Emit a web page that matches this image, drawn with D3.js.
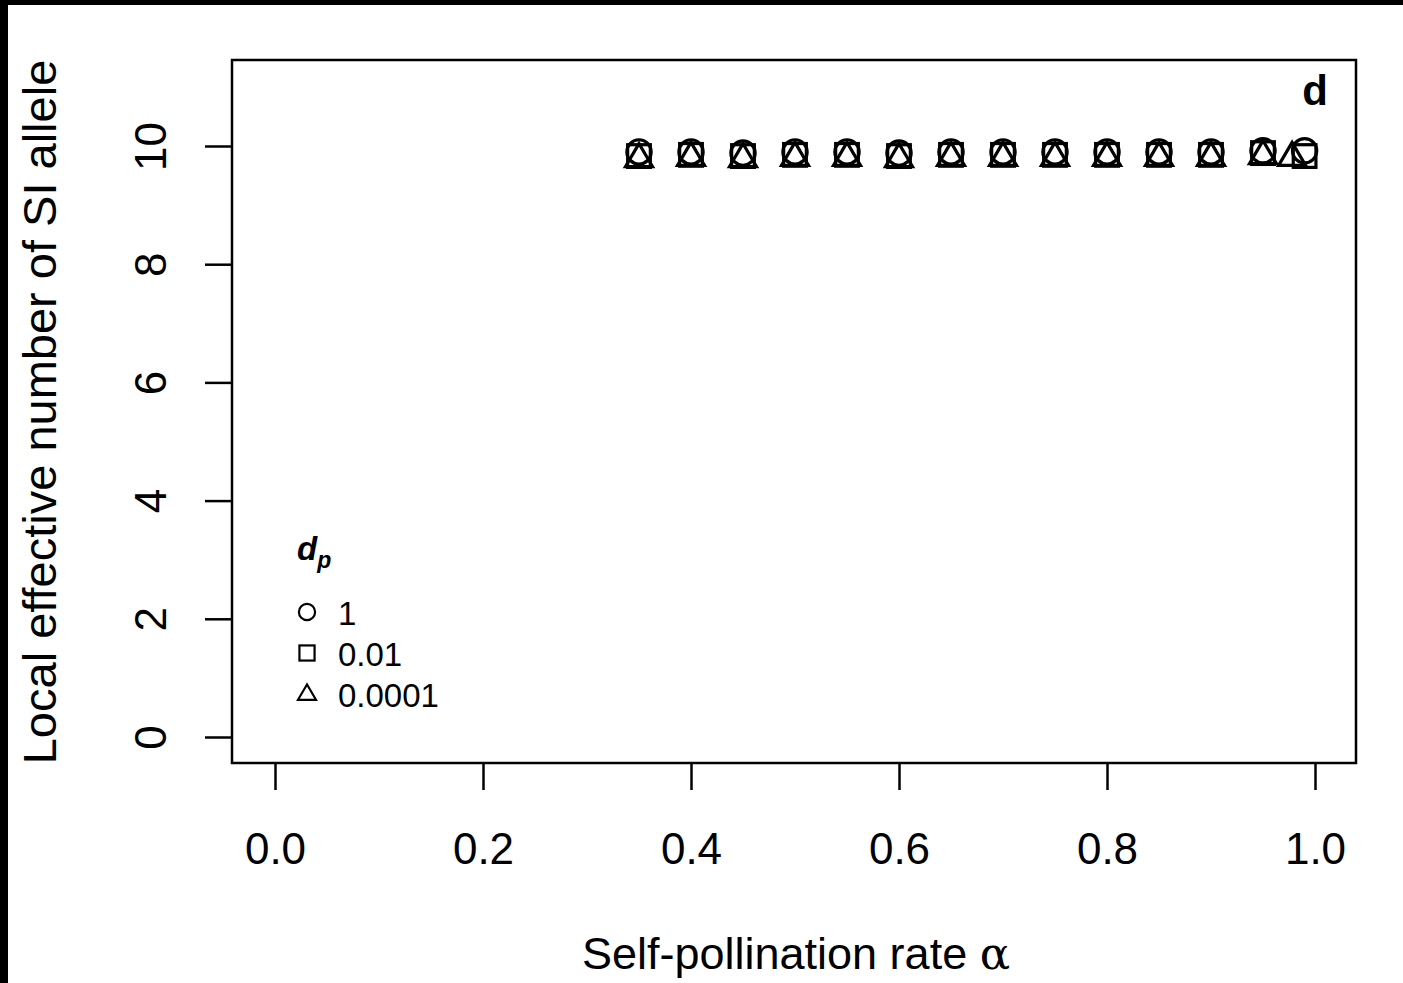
<!DOCTYPE html>
<html>
<head>
<meta charset="utf-8">
<script src="https://cdn.jsdelivr.net/npm/d3@7.9.0/dist/d3.min.js"></script>
<style>
  body { margin: 0; background: #000; }
  svg { display: block; font-family: Arial, "Liberation Sans", sans-serif; }
</style>
</head>
<body>
<svg id="chart" width="1403" height="983"></svg>
<script>
// data
const alphaMain = [0.35, 0.40, 0.45, 0.50, 0.55, 0.60, 0.65, 0.70, 0.75, 0.80, 0.85, 0.90, 0.95];
const circleY = [9.9, 9.9, 9.88, 9.9, 9.9, 9.88, 9.9, 9.9, 9.9, 9.9, 9.9, 9.9, 9.92];
const squareY = [9.83, 9.85, 9.83, 9.85, 9.85, 9.83, 9.85, 9.85, 9.85, 9.85, 9.85, 9.85, 9.88];
const triangleY = [9.8, 9.82, 9.8, 9.82, 9.82, 9.8, 9.82, 9.82, 9.82, 9.82, 9.82, 9.82, 9.85];
const lastAlpha = { circle: 0.99, square: 0.99, triangle: 0.978 };
const lastY = { circle: 9.92, square: 9.83, triangle: 9.82 };
const xTicks = [0.0, 0.2, 0.4, 0.6, 0.8, 1.0];
const yTicks = [0, 2, 4, 6, 8, 10];
const legendLabels = ['1', '0.01', '0.0001'];
const shapes = ['circle', 'square', 'triangle'];

const svg = d3.select('#chart');

// white page inside the black frame
svg.append('rect').attr('x', 8).attr('y', 5).attr('width', 1395).attr('height', 978).attr('fill', '#fff');

const box = { left: 232, right: 1356, top: 60, bottom: 763 };
const x = d3.scaleLinear().domain([0, 1]).range([275, 1315]);
const y = d3.scaleLinear().domain([0, 10]).range([737, 146]);

// axes
const xAxis = svg.append('g')
  .attr('transform', `translate(0,${box.bottom})`)
  .call(d3.axisBottom(x).tickValues(xTicks).tickFormat(d3.format('.1f')).tickSize(27).tickPadding(43));
xAxis.select('.domain').remove();
xAxis.selectAll('line').attr('stroke', '#000').attr('stroke-width', 2.5);
xAxis.selectAll('text').attr('font-size', 44).attr('fill', '#000').attr('font-family', 'Arial, "Liberation Sans", sans-serif');

const yAxis = svg.append('g')
  .attr('transform', `translate(${box.left},0)`)
  .call(d3.axisLeft(y).tickValues(yTicks).tickSize(27).tickPadding(0));
yAxis.select('.domain').remove();
yAxis.selectAll('line').attr('stroke', '#000').attr('stroke-width', 2.5);
yAxis.selectAll('text')
  .attr('font-size', 44).attr('fill', '#000')
  .attr('font-family', 'Arial, "Liberation Sans", sans-serif')
  .attr('x', null).attr('dy', null)
  .attr('text-anchor', 'middle')
  .attr('transform', 'translate(-66,0) rotate(-90)');

// plot frame
svg.append('rect')
  .attr('x', box.left).attr('y', box.top)
  .attr('width', box.right - box.left).attr('height', box.bottom - box.top)
  .attr('fill', 'none').attr('stroke', '#000').attr('stroke-width', 2.5);

// axis titles
svg.append('text')
  .attr('x', 796).attr('y', 969)
  .attr('text-anchor', 'middle').attr('font-size', 45)
  .text('Self-pollination rate ')
  .append('tspan').attr('font-family', '"DejaVu Serif", "Liberation Serif", serif').text('α');

svg.append('text')
  .attr('transform', 'translate(56,412) rotate(-90)')
  .attr('text-anchor', 'middle').attr('font-size', 47)
  .text('Local effective number of SI allele');

svg.append('text')
  .attr('x', 1315).attr('y', 105)
  .attr('text-anchor', 'middle').attr('font-size', 42).attr('font-weight', 'bold')
  .text('d');

// marker drawing
function drawMarker(g, shape, cx, cy, s, lw) {
  if (shape === 'circle') {
    g.append('circle').attr('cx', cx).attr('cy', cy).attr('r', s * 0.45)
      .attr('fill', 'none').attr('stroke', '#000').attr('stroke-width', lw);
  } else if (shape === 'square') {
    g.append('rect').attr('x', cx - s * 0.42).attr('y', cy - s * 0.42)
      .attr('width', s * 0.84).attr('height', s * 0.84)
      .attr('fill', 'none').attr('stroke', '#000').attr('stroke-width', lw);
  } else {
    const h = s * 0.85;
    const pts = [[cx, cy - h * 0.62], [cx - s * 0.5, cy + h * 0.38], [cx + s * 0.5, cy + h * 0.38]];
    g.append('polygon').attr('points', pts.map(p => p.join(',')).join(' '))
      .attr('fill', 'none').attr('stroke', '#000').attr('stroke-width', lw);
  }
}

const series = { circle: circleY, square: squareY, triangle: triangleY };
const pts = svg.append('g');
shapes.forEach(shape => {
  alphaMain.forEach((a, i) => drawMarker(pts, shape, x(a), y(series[shape][i]), 27, 3.2));
  drawMarker(pts, shape, x(lastAlpha[shape]), y(lastY[shape]), 27, 3.2);
});

// legend
const lg = svg.append('g');
const dp = lg.append('text').attr('x', 297).attr('y', 560).attr('font-size', 33)
  .attr('font-style', 'italic').attr('font-weight', 'bold');
dp.append('tspan').text('d');
dp.append('tspan').attr('font-size', 23).attr('dy', 8).text('p');
legendLabels.forEach((lab, i) => {
  const cy = 612 + i * 41;
  drawMarker(lg, shapes[i], 307, cy, 18, 2.2);
  lg.append('text').attr('x', 338).attr('y', cy + 13).attr('font-size', 33).text(lab);
});
</script>
</body>
</html>
